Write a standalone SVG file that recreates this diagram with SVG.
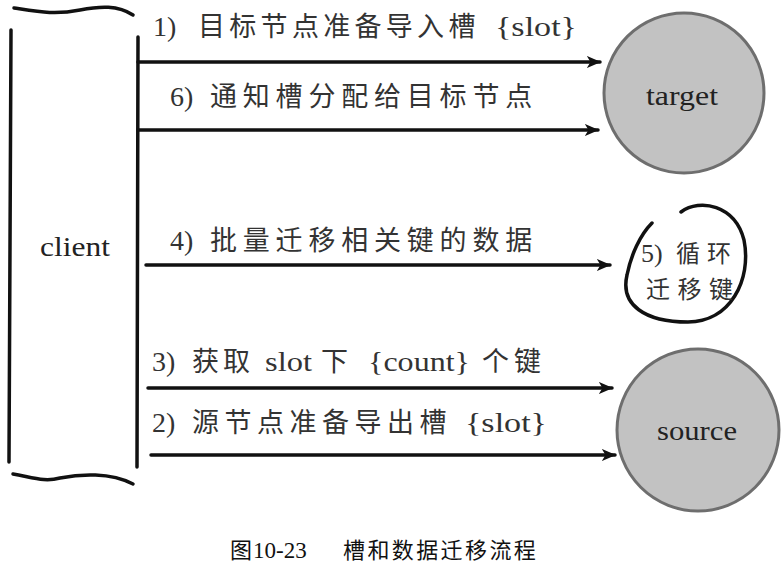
<svg xmlns="http://www.w3.org/2000/svg" width="784" height="571" viewBox="0 0 784 571">
<style>
.lbl{font-family:"Noto Sans CJK SC",sans-serif;font-size:27px;fill:#333}
.lat{font-family:"Liberation Serif","DejaVu Serif",serif;font-size:28px;fill:#333}
.lp{font-family:"Noto Sans CJK SC",sans-serif;font-size:24px;fill:#333}
.lpl{font-family:"Liberation Serif","DejaVu Serif",serif;font-size:26px;fill:#333}
.nm{font-family:"Liberation Serif","DejaVu Serif",serif;font-size:28px;fill:#222}
.ln{stroke:#111;stroke-width:3.5;fill:none;stroke-linecap:round}
.cap{font-family:"Noto Sans CJK SC",sans-serif;font-size:22px;fill:#111}
.capl{font-family:"Liberation Serif","DejaVu Serif",serif;font-size:23px;fill:#111}
.node{fill:#c2c2c2;stroke:#6e6e6e;stroke-width:3}
</style>
<defs>
<marker id="ah" viewBox="0 0 12 10" refX="11" refY="5" markerWidth="4.2" markerHeight="3.4" orient="auto" markerUnits="strokeWidth">
<path d="M0,0 L12,5 L0,10 L3,5 Z" fill="#111"/>
</marker>
</defs>
<rect width="784" height="571" fill="#fff"/>
<g id="client">
<path class="ln" d="M14,8 C40,12 55,15 80,10 C100,6 118,5 133,15"/>
<path class="ln" d="M11,30 L9,462"/>
<path class="ln" d="M138,37 L137,467"/>
<path class="ln" d="M13,474 C35,478 45,482 60,478 C80,474 110,472 133,484"/>
<text class="nm" x="40" y="256" textLength="70" lengthAdjust="spacingAndGlyphs">client</text>
</g>
<g id="target">
<circle class="node" cx="684" cy="93" r="80"/>
<text class="nm" x="646" y="105" textLength="72" lengthAdjust="spacingAndGlyphs">target</text>
</g>
<g id="source">
<circle class="node" cx="698" cy="430" r="81"/>
<text class="nm" x="657" y="440" textLength="80" lengthAdjust="spacingAndGlyphs">source</text>
</g>
<g id="loop5">
<path class="ln" stroke-width="2.5" d="M681,212 C700,198 735,205 744,240 C752,280 730,322 688,322 C645,322 620,305 627,275 C631,255 640,235 652,223"/>
<text y="262"><tspan class="lpl" x="641">5)</tspan><tspan class="lp" x="676" letter-spacing="7">循环</tspan></text>
<text class="lp" x="646" y="298" letter-spacing="7.5">迁移键</text>
</g>
<g id="connectors">
<line class="ln" x1="138" y1="62" x2="600" y2="62" marker-end="url(#ah)"/>
<line class="ln" x1="138" y1="130" x2="598" y2="130" marker-end="url(#ah)"/>
<line class="ln" x1="146" y1="265" x2="610" y2="265" marker-end="url(#ah)"/>
<line class="ln" x1="148" y1="388" x2="612" y2="388" marker-end="url(#ah)"/>
<line class="ln" x1="151" y1="455" x2="615" y2="455" marker-end="url(#ah)"/>
<text y="36"><tspan class="lat" x="153">1)</tspan><tspan class="lbl" x="198" letter-spacing="4.3">目标节点准备导入槽</tspan><tspan class="lat" x="495" textLength="82" lengthAdjust="spacingAndGlyphs">{slot}</tspan></text>
<text y="106"><tspan class="lat" x="170">6)</tspan><tspan class="lbl" x="210" letter-spacing="5.8">通知槽分配给目标节点</tspan></text>
<text y="250"><tspan class="lat" x="170">4)</tspan><tspan class="lbl" x="210" letter-spacing="5.8">批量迁移相关键的数据</tspan></text>
<text y="371"><tspan class="lat" x="152">3)</tspan><tspan class="lbl" x="192" letter-spacing="4">获取</tspan><tspan class="lat" x="265" textLength="47" lengthAdjust="spacingAndGlyphs">slot</tspan><tspan class="lbl" x="321">下</tspan><tspan class="lat" x="368" textLength="102" lengthAdjust="spacingAndGlyphs">{count}</tspan><tspan class="lbl" x="482" letter-spacing="5">个键</tspan></text>
<text y="432"><tspan class="lat" x="152">2)</tspan><tspan class="lbl" x="192" letter-spacing="5.5">源节点准备导出槽</tspan><tspan class="lat" x="465" textLength="82" lengthAdjust="spacingAndGlyphs">{slot}</tspan></text>
</g>
<text y="558"><tspan class="cap" x="230">图</tspan><tspan class="capl" x="253">10-23</tspan><tspan class="cap" x="343" letter-spacing="2.4">槽和数据迁移流程</tspan></text>
</svg>
